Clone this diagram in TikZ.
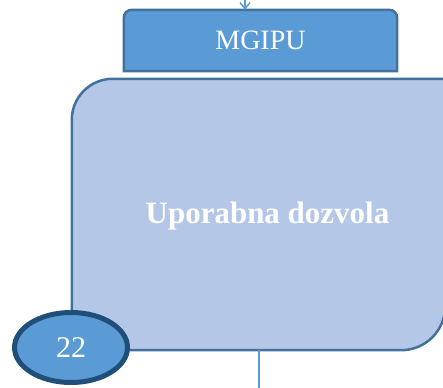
\documentclass[tikz,border=0pt]{standalone}
\usepackage{fontspec}
\setmainfont{Liberation Serif}
\usetikzlibrary{arrows.meta, positioning, shapes.geometric, backgrounds}

\definecolor{boxblue}{HTML}{5B9BD5}
\definecolor{paleblue}{HTML}{B4C7E7}
\definecolor{edgeblue}{HTML}{41719C}
\definecolor{darkblue}{HTML}{1F4E79}

\begin{document}
\begin{tikzpicture}[x=1pt, y=1pt,
    tabbox/.style={minimum width=273pt, minimum height=61pt, inner sep=0pt, text=white, font=\fontsize{28}{30}\selectfont},
    permitbox/.style={minimum width=373pt, minimum height=271pt, inner sep=0pt},
    numoval/.style={draw=darkblue, fill=boxblue, ellipse, line width=5pt, minimum width=113pt, minimum height=70pt, inner sep=0pt, text=white, font=\fontsize{30}{32}\selectfont},
    link/.style={draw=boxblue, line width=1.5pt}]
  \useasboundingbox (0,0) rectangle (443,387);
  % tab with the authority
  \node[tabbox] (mgipu) at (260.5,346.5) {MGIPU};
  % main box
  \node[permitbox] (permit) at (258.5,172.5) {};
  \node[text=white, font=\bfseries\fontsize{31}{33}\selectfont] (permittext) at ([xshift=9pt,yshift=-2pt]permit.center) {Uporabna dozvola};
  \node[numoval] (num) at (71,39.5) {22};

  \begin{scope}[on background layer]
    \draw[fill=boxblue, draw=edgeblue, line width=2.5pt]
      (mgipu.south west) -- ([yshift=-8pt]mgipu.north west) arc[start angle=180, end angle=90, radius=8pt]
      -- ([xshift=-8pt]mgipu.north east) arc[start angle=90, end angle=0, radius=8pt] -- (mgipu.south east) -- cycle;
    \draw[fill=paleblue, draw=edgeblue, line width=2.5pt]
      (permit.south west) -- ([yshift=-41pt]permit.north west) arc[start angle=180, end angle=90, radius=41pt]
      -- (permit.north east) -- ([yshift=44pt]permit.south east) arc[start angle=0, end angle=-90, radius=44pt] -- cycle;
  \end{scope}

  \coordinate (in) at (245,392);
  \coordinate (out) at ([yshift=-45pt]permit.south);
  \draw[link, -{Straight Barb[length=6pt, width=10pt]}] (in) -- (in |- mgipu.north);
  \draw[link, line width=2pt] (permit.south) -- (out);
\end{tikzpicture}
\end{document}
